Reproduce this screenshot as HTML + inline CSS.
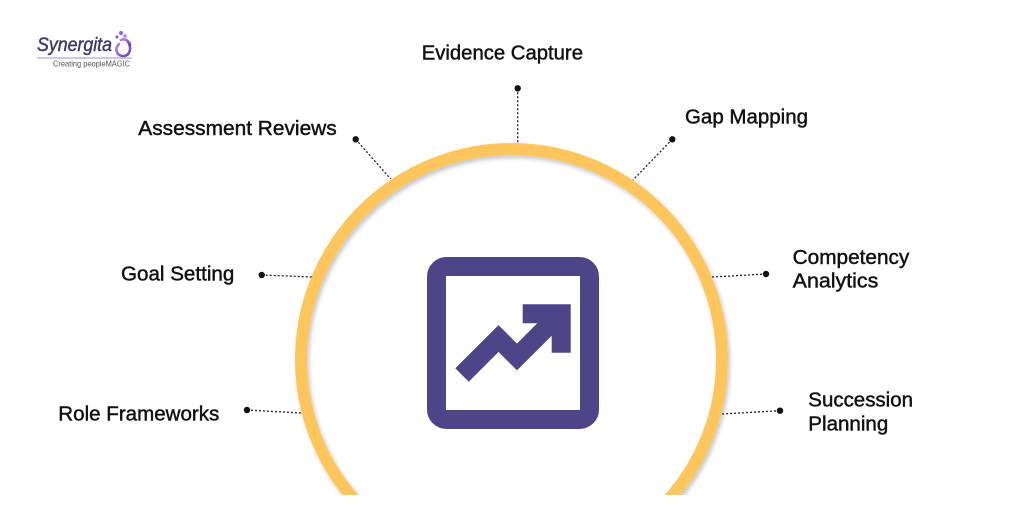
<!DOCTYPE html>
<html>
<head>
<meta charset="utf-8">
<style>
  html,body{margin:0;padding:0;background:#fff;width:1011px;height:530px;overflow:hidden;}
  body{position:relative;}
  svg{display:block;position:absolute;left:0;top:0;}
  .lbl{font-family:"Liberation Sans",Arial,sans-serif;font-size:20.5px;fill:#111;stroke:#111;stroke-width:0.45px;}
</style>
</head>
<body>
<svg width="1011" height="530" viewBox="0 0 1011 530" xmlns="http://www.w3.org/2000/svg">
  <defs>
    <clipPath id="cut"><rect x="0" y="0" width="1011" height="495"/></clipPath>
    <filter id="sh" x="-5%" y="-5%" width="110%" height="110%">
      <feDropShadow dx="2" dy="3" stdDeviation="2" flood-color="#000" flood-opacity="0.22"/>
    </filter>
    <linearGradient id="lg" x1="0" y1="0" x2="1" y2="1">
      <stop offset="0" stop-color="#b48be8"/>
      <stop offset="1" stop-color="#6a3fb5"/>
    </linearGradient>
  </defs>

  <!-- Logo -->
  <text x="37" y="51" font-family="Liberation Sans, Arial, sans-serif" font-style="italic" font-size="19" fill="#3f3566" stroke="#3f3566" stroke-width="0.4" textLength="75" lengthAdjust="spacingAndGlyphs">Synergita</text>
  <g fill="none" stroke="url(#lg)" stroke-width="2.6" stroke-linecap="round">
    <path d="M119 44 C114 49 117 56 123 56 C130 56 132 48 128 42"/>
    <path d="M121 40 C125 38 129 41 130 45"/>
  </g>
  <circle cx="121" cy="33" r="2" fill="#8f62d8"/>
  <circle cx="125" cy="36" r="1.7" fill="#a57ce3"/>
  <circle cx="117" cy="37" r="1.5" fill="#7c52c8"/>
  <line x1="37" y1="58" x2="132" y2="58" stroke="#a18fd0" stroke-width="1"/>
  <text x="53" y="66.5" font-family="Liberation Sans, Arial, sans-serif" font-size="8.3" fill="#555" textLength="77" lengthAdjust="spacingAndGlyphs">Creating peopleMAGIC</text>

  <!-- Ring (arc only, clipped at y=495) -->
  <g clip-path="url(#cut)">
    <path d="M354.75 500 A210.5 210.5 0 1 1 668.25 500" fill="none" stroke="#fec55c" stroke-width="12" filter="url(#sh)"/>
  </g>

  <!-- Central icon -->
  <rect x="436.5" y="266.5" width="153" height="153" rx="10" ry="10" fill="none" stroke="#4e4589" stroke-width="19"/>
  <polyline points="462,375 498.5,338.5 517,357 552,322" fill="none" stroke="#4e4589" stroke-width="19" stroke-linejoin="miter" stroke-linecap="butt"/>
  <polygon points="522.7,304.3 570.7,304.3 570.7,352.7 551.7,352.7 551.7,323.3 522.7,323.3" fill="#4e4589"/>

  <!-- Connectors -->
  <g stroke="#222" stroke-width="1.3" stroke-dasharray="2 2" fill="none">
    <line x1="517.7" y1="88.3" x2="517.7" y2="143"/>
    <line x1="355.7" y1="139.3" x2="390.7" y2="179"/>
    <line x1="672.3" y1="139.3" x2="633" y2="180"/>
    <line x1="261.7" y1="275" x2="312" y2="277"/>
    <line x1="247" y1="410" x2="301" y2="413"/>
    <line x1="766" y1="274" x2="712" y2="277"/>
    <line x1="780" y1="410.7" x2="722" y2="414"/>
  </g>
  <g fill="#111">
    <circle cx="517.7" cy="88.3" r="3.2"/>
    <circle cx="355.7" cy="139.3" r="3.2"/>
    <circle cx="672.3" cy="139.3" r="3.2"/>
    <circle cx="261.7" cy="275" r="3.2"/>
    <circle cx="247" cy="410" r="3.2"/>
    <circle cx="766" cy="274" r="3.2"/>
    <circle cx="780" cy="410.7" r="3.2"/>
  </g>

  <!-- Labels -->
  <text class="lbl" x="421.7" y="59.3" textLength="161.3" lengthAdjust="spacingAndGlyphs">Evidence Capture</text>
  <text class="lbl" x="138.3" y="135" textLength="198.4" lengthAdjust="spacingAndGlyphs">Assessment Reviews</text>
  <text class="lbl" x="685" y="123.3" textLength="123" lengthAdjust="spacingAndGlyphs">Gap Mapping</text>
  <text class="lbl" x="121" y="280.7" textLength="113.3" lengthAdjust="spacingAndGlyphs">Goal Setting</text>
  <text class="lbl" x="58.3" y="420.7" textLength="161" lengthAdjust="spacingAndGlyphs">Role Frameworks</text>
  <text class="lbl" x="792.7" y="264" textLength="116.6" lengthAdjust="spacingAndGlyphs">Competency</text>
  <text class="lbl" x="792.7" y="287.7" textLength="85.6" lengthAdjust="spacingAndGlyphs">Analytics</text>
  <text class="lbl" x="808.3" y="406.7" textLength="104.7" lengthAdjust="spacingAndGlyphs">Succession</text>
  <text class="lbl" x="808.3" y="430.5" textLength="80" lengthAdjust="spacingAndGlyphs">Planning</text>
</svg>
</body>
</html>
